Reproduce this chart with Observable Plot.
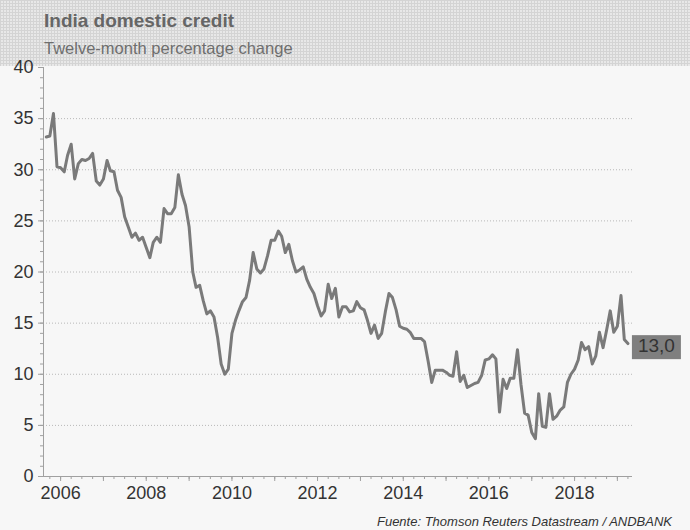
<!DOCTYPE html>
<html><head><meta charset="utf-8">
<script src="https://cdn.jsdelivr.net/npm/d3@7"></script>
<script src="https://cdn.jsdelivr.net/npm/@observablehq/plot@0.6"></script>
<style>
body{margin:0;background:#f7f7f7;font-family:"Liberation Sans",Arial,sans-serif;}
#wrap{width:690px;height:530px;position:relative;overflow:hidden;background:#f7f7f7;}
#head{height:66px;background-color:#e8e8e8;background-image:linear-gradient(#d4d4d4 1px,transparent 1px),linear-gradient(90deg,#d4d4d4 1px,transparent 1px);background-size:3px 3px;position:relative;z-index:0;}
#title{position:absolute;left:44px;top:10px;font-weight:bold;font-size:19px;color:#666;white-space:nowrap;}
#sub{position:absolute;left:44px;top:39px;font-size:16.5px;color:#6e6e6e;white-space:nowrap;}
#chart{position:relative;z-index:1;}
#cap{position:absolute;right:18px;top:514px;font-style:italic;font-size:13px;color:#333;white-space:nowrap;}
#chart svg{overflow:visible;display:block;}
</style></head>
<body>
<div id="wrap">
  <div id="head"><div id="title"></div><div id="sub"></div></div>
  <div id="chart"></div>
  <div id="cap"></div>
</div>
<script>
const titleText = "India domestic credit";
const subtitleText = "Twelve-month percentage change";
const captionText = "Fuente: Thomson Reuters Datastream / ANDBANK";
const startMonth = "2005-09";
const values = [
  33.2,33.3,35.5,30.3,30.2,29.8,31.4,32.5,29.1,30.6,31.0,30.9,31.1,31.6,28.9,28.5,29.1,30.9,29.9,29.8,
  28.0,27.3,25.4,24.4,23.4,23.8,23.1,23.4,22.4,21.4,22.9,23.4,22.9,26.2,25.7,25.7,26.3,29.5,27.6,26.5,
  24.4,20.0,18.5,
  18.7,17.2,15.9,16.2,15.6,13.6,11.0,10.0,10.5,14.0,
  15.3,16.2,17.1,17.5,19.2,21.9,20.3,19.9,20.3,21.6,
  23.1,23.1,24.0,23.5,21.9,22.7,21.1,20.0,20.2,20.5,
  19.3,18.5,17.9,16.7,15.7,16.2,18.8,17.4,18.4,15.6,
  16.6,16.6,16.1,16.2,17.1,16.5,16.3,15.3,14.0,14.8,
  13.5,14.0,16.1,17.9,17.5,16.3,14.7,14.5,14.4,14.1,
  13.5,13.5,13.5,13.2,11.3,9.2,10.4,10.4,10.4,10.2,
  9.9,9.8,12.2,9.3,9.9,8.7,8.9,9.1,9.2,9.9,
  11.4,11.5,11.9,11.5,6.3,9.5,8.6,9.6,9.6,12.4,
  9.0,6.2,6.0,4.3,3.7,8.1,4.9,4.8,8.1,5.6,
  5.9,6.5,6.8,9.2,10.0,10.5,11.4,13.1,12.4,12.7,
  11.0,11.8,14.1,12.6,14.3,16.2,14.1,14.7,17.7,13.4,
  13.0
];
const yTicks = [0,5,10,15,20,25,30,35,40];
const xDomain = ["2005-08-08","2019-05-10"];
const yDomain = [0,40];

document.getElementById("title").textContent = titleText;
document.getElementById("sub").textContent = subtitleText;
document.getElementById("cap").textContent = captionText;

const start = d3.utcParse("%Y-%m")(startMonth);
const data = values.map((v,i) => ({date: d3.utcMonth.offset(start, i), value: v}));
const last = data[data.length-1];
const xd = xDomain.map(d => d3.utcParse("%Y-%m-%d")(d));

const axisColor = "#a0a0a0";
const chart = Plot.plot({
  width: 690, height: 445,
  marginTop: 1, marginLeft: 43, marginRight: 58, marginBottom: 35,
  style: {fontFamily: "'Liberation Sans', Arial, sans-serif", fontSize: "18px", background: "transparent", color: "#333"},
  x: {type: "utc", domain: xd, label: null},
  y: {domain: yDomain, label: null},
  marks: [
    Plot.gridY(yTicks.filter(t => t > 0 && t < 40), {stroke: "#b8b8b8", strokeOpacity: 1, strokeDasharray: "1,2"}),
    Plot.axisY(d3.range(0, 41, 1), {tickSize: 3, tickFormat: () => "", stroke: axisColor, label: null}),
    Plot.axisY(yTicks, {tickSize: 5, tickPadding: 5, fill: "#333", stroke: axisColor, label: null}),
    Plot.axisX({ticks: d3.utcMonth.every(3), tickSize: 3, tickFormat: () => "", stroke: axisColor, label: null}),
    Plot.axisX({ticks: d3.utcYear.every(1), tickSize: 5, tickFormat: () => "", stroke: axisColor, label: null}),
    Plot.axisX({ticks: d3.utcYear.every(2), tickSize: 0, tickPadding: 10, tickFormat: d3.utcFormat("%Y"), fill: "#333", label: null}),
    Plot.ruleY([0], {stroke: axisColor}),
    Plot.ruleX([xd[0]], {y1: yDomain[0], y2: yDomain[1], stroke: axisColor}),
    Plot.line(data, {x: "date", y: "value", stroke: "#7a7a7a", strokeWidth: 3, strokeLinejoin: "round"}),
    Plot.text([last], {x: "date", y: "value", text: d => d3.format(".1f")(d.value).replace(".", ","), dx: 10, dy: 2, textAnchor: "start", fill: "#333", fontSize: 19})
  ]
});
document.getElementById("chart").appendChild(chart);

// background box behind the end label
const labelText = d3.format(".1f")(last.value).replace(".", ",");
d3.select(chart).selectAll("text").each(function() {
  if (this.textContent === labelText) {
    const b = this.getBBox();
    const r = document.createElementNS("http://www.w3.org/2000/svg", "rect");
    r.setAttribute("x", b.x - 6);
    r.setAttribute("y", b.y + 0.5);
    r.setAttribute("width", b.width + 12);
    r.setAttribute("height", b.height + 3);
    r.setAttribute("fill", "#7f7f7f");
    const tr = this.getAttribute("transform");
    if (tr) r.setAttribute("transform", tr);
    this.parentNode.insertBefore(r, this);
  }
});
</script>
</body></html>
